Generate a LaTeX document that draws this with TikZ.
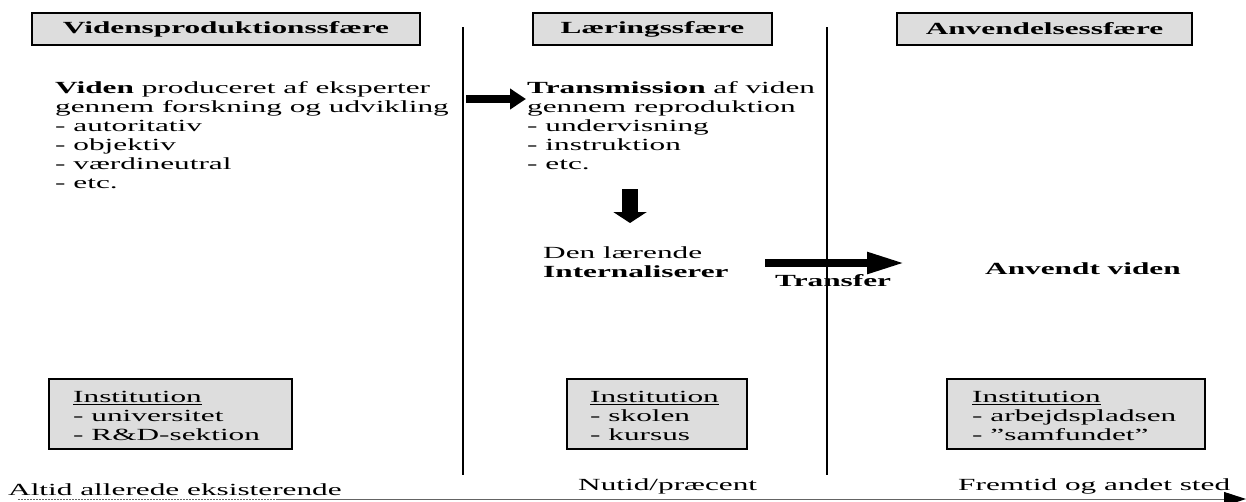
\documentclass[tikz,border=0pt]{standalone}
\usepackage{fontspec}
\setmainfont{Liberation Serif}[FakeStretch=1.84]
\usetikzlibrary{arrows.meta}
\definecolor{boxgray}{RGB}{221,221,221}
\definecolor{axisgray}{RGB}{100,100,100}
\begin{document}
\begin{tikzpicture}[x=1pt,y=-1pt,
  txt/.style={font=\fontsize{17}{19}\selectfont, inner sep=0pt, align=left},
  hdr/.style={draw=black, line width=1.5pt, fill=boxgray, inner sep=0pt,
    minimum height=32pt, font=\bfseries\fontsize{17}{19}\selectfont},
  inst/.style={draw=black, line width=1.5pt, fill=boxgray, inner sep=0pt,
    minimum height=70pt},
  insttxt/.style={inner sep=0pt, align=left, anchor=base west, font=\fontsize{17}{18.7}\selectfont},
  sep/.style={line width=2pt, black},
  fat/.style={black, line width=#1},
  lbl/.style={font=\fontsize{17}{19}\selectfont, inner sep=0pt}
]
\useasboundingbox (0,0) rectangle (1246,501);
% headers
\node[hdr, minimum width=388pt] (h1) at (226,29) {Vidensproduktionssfære};
\node[hdr, minimum width=239pt] (h2) at (652.5,29) {Læringssfære};
\node[hdr, minimum width=295pt] (h3) at (1044.5,29) {Anvendelsessfære};
% separators
\draw[sep] (463,27) -- (463,475);
\draw[sep] (827,27) -- (827,475);
% text blocks (base anchor = baseline of last line)
\node[txt, anchor=base west] (t1) at (55,188) {\textbf{Viden} produceret af eksperter\\gennem forskning og udvikling\\- autoritativ\\- objektiv\\- værdineutral\\- etc.};
\node[txt, anchor=base west] (t2) at (527,169) {\textbf{Transmission} af viden\\gennem reproduktion\\- undervisning\\- instruktion\\- etc.};
\node[txt, anchor=base west] (t3) at (543,277) {Den lærende\\\textbf{Internaliserer}};
\node[lbl, anchor=base west, font=\bfseries\fontsize{17}{19}\selectfont] (tr) at (775,286) {Transfer};
\node[lbl, anchor=base west, font=\bfseries\fontsize{17}{19}\selectfont] (av) at (985,274) {Anvendt viden};
% arrows
\coordinate (a1s) at (466,99);
\coordinate (a1e) at (526,99);
\draw[fat=8pt, -{Triangle[length=16pt,width=20pt]}] (a1s) -- (a1e);
\coordinate (a2s) at (630,189);
\coordinate (a2e) at (630,223);
\draw[fat=16pt, -{Triangle[length=11pt,width=33pt]}] (a2s) -- (a2e);
\coordinate (a3s) at (765,263);
\coordinate (a3e) at (905,263);
\draw[fat=8pt, -{Triangle[length=38pt,width=20pt]}] (a3s) -- (a3e);
% institution boxes
\node[inst, minimum width=243pt] (i1) at (170.5,414) {};
\node[inst, minimum width=180pt] (i2) at (657,414) {};
\node[inst, minimum width=258pt] (i3) at (1076,414) {};
\node[insttxt] (i1t) at (73,440) {\underline{Institution}\\- universitet\\- R\&D-sektion};
\node[insttxt] (i2t) at (590,440) {\underline{Institution}\\- skolen\\- kursus};
\node[insttxt] (i3t) at (972,440) {\underline{Institution}\\- arbejdspladsen\\- ''samfundet''};
% time axis
\node[lbl, anchor=base west] (l1) at (8,495) {Altid allerede eksisterende};
\node[lbl, anchor=base west] (l2) at (578,490) {Nutid/præcent};
\node[lbl, anchor=base west] (l3) at (958,490) {Fremtid og andet sted};
\coordinate (x0) at (18,499);
\coordinate (x1) at (277,499);
\coordinate (x2) at (1246,499);
\draw[axisgray, line width=1pt, dash pattern=on 2pt off 1pt] (x0) -- (x1);
\draw[axisgray, line width=1pt, -{Triangle[length=22pt,width=14pt,color=black]}] (x1) -- (x2);
\end{tikzpicture}
\end{document}
